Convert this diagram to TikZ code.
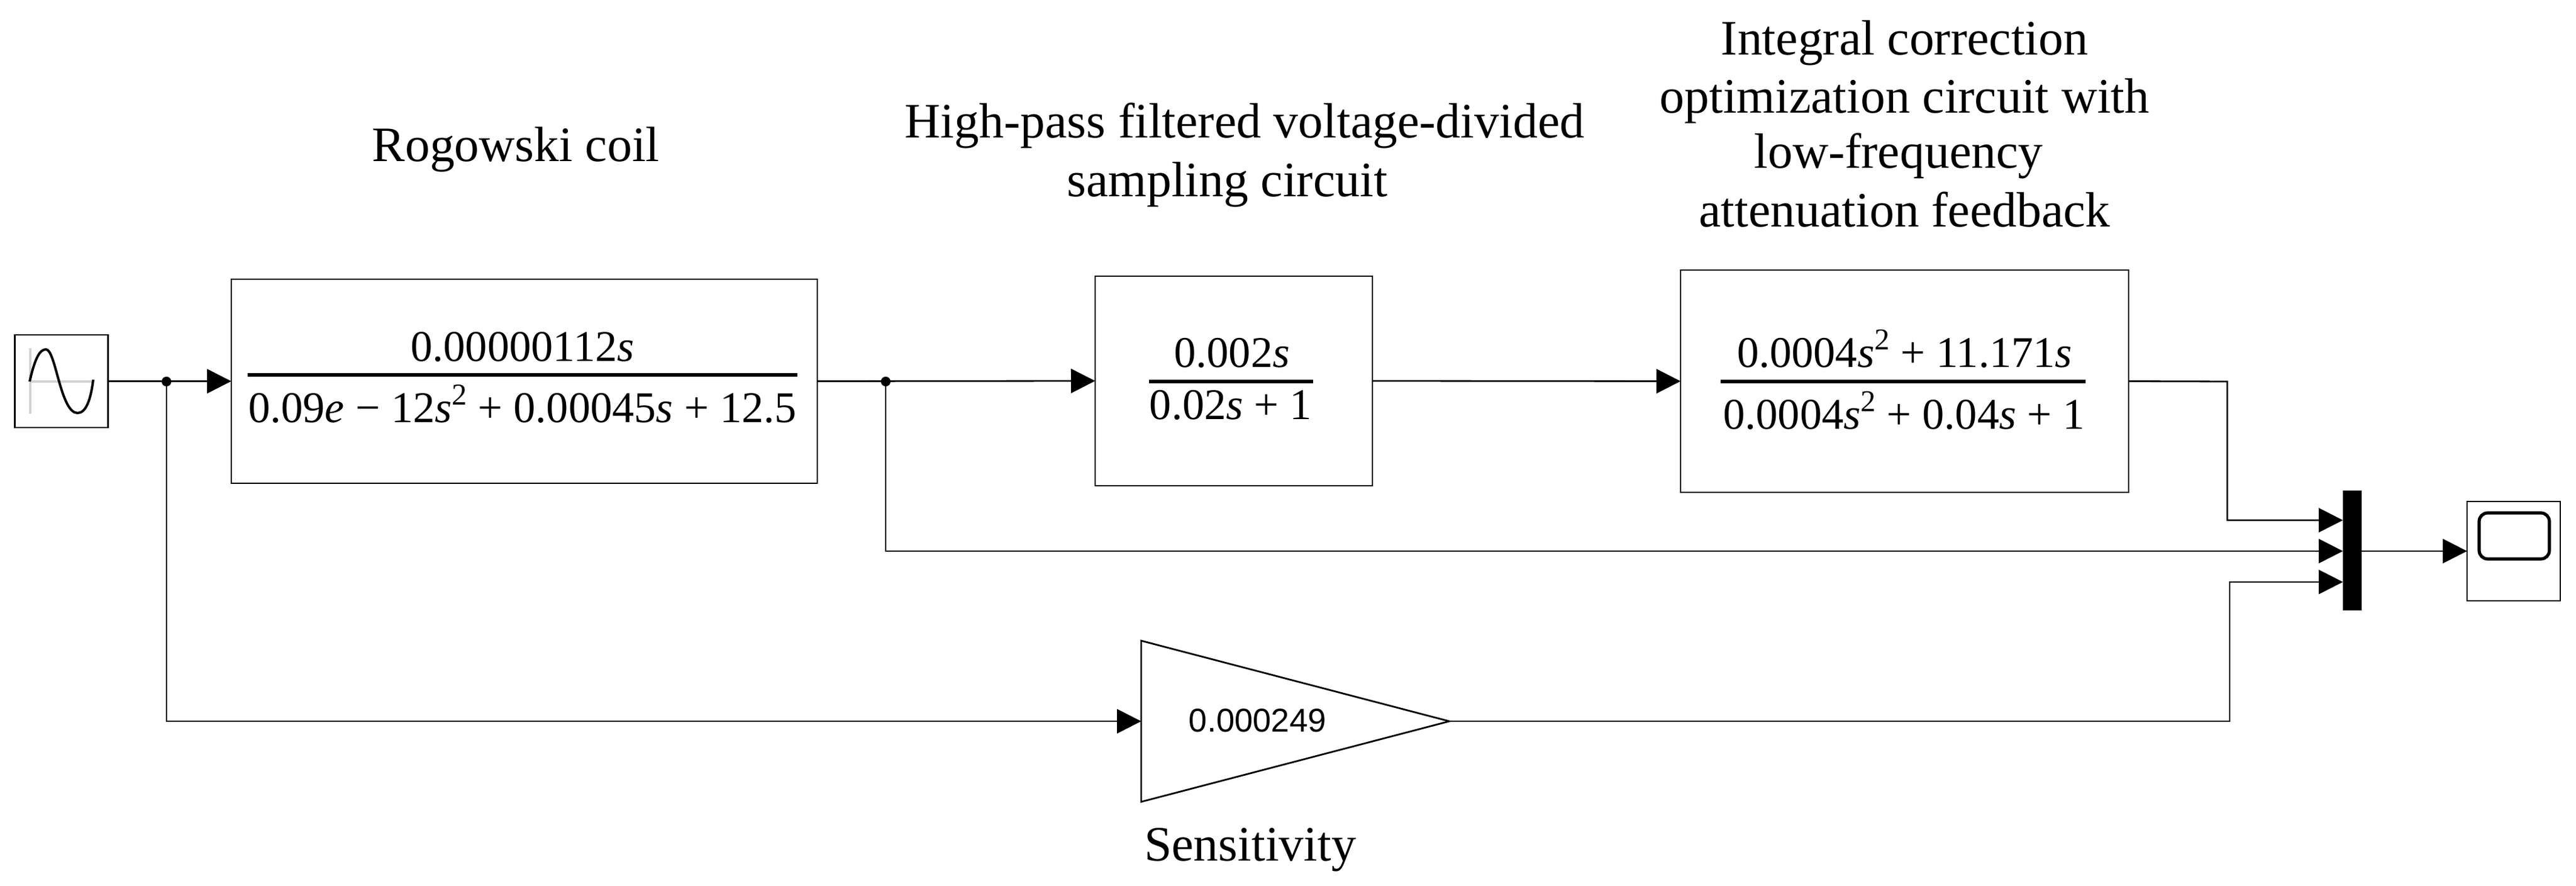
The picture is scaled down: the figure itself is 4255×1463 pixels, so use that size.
\documentclass[tikz,border=0pt]{standalone}
\usepackage{fontspec}
\setmainfont{Liberation Serif}
\newfontfamily\gainfont{Liberation Sans}
\usetikzlibrary{arrows.meta}
\newcommand{\vs}{\textit{s}}
\newcommand{\sqr}{\raisebox{7.3pt}{\fontsize{12.5pt}{12.5pt}\selectfont 2}}
\tikzset{
  x=0.25pt,y=-0.25pt,
  wire/.style={line width=0.7pt,-{Triangle[length=10pt,width=10pt]}},
  plain/.style={line width=0.7pt},
  blockbox/.style={draw,line width=0.7pt,minimum width=#1,inner sep=0pt,outer sep=0pt},
  fracbar/.style={line width=1.6pt},
  eq/.style={font=\fontsize{18.1pt}{18.1pt}\selectfont,inner sep=0pt,anchor=base},
  title/.style={font=\fontsize{20.45pt}{24pt}\selectfont,inner sep=0pt,align=center,anchor=base},
  dotnode/.style={circle,fill=black,inner sep=0pt,minimum size=4pt},
}
\begin{document}
\begin{tikzpicture}
\useasboundingbox (0,0) rectangle (4255,1463);
% blocks
\node[blockbox=38.5pt,minimum height=38.25pt] (source) at (101.5,629.5) {};
\node[blockbox=242pt,minimum height=84.25pt] (rog) at (866,629.5) {};
\node[blockbox=114.5pt,minimum height=86.5pt] (hp) at (2038,629) {};
\node[blockbox=185pt,minimum height=91.75pt] (integ) at (3146,629.5) {};
\node[draw,fill=black,line width=0pt,minimum width=7.5pt,minimum height=49.25pt,inner sep=0pt,outer sep=0pt] (mux) at (3885,909.5) {};
\node[blockbox=38.5pt,minimum height=41pt] (scope) at (4152,910) {};
% source icon
\draw[gray!35,line width=0.8pt] (50,575) -- (50,683) (50,630) -- (155,630);
\draw[line width=1pt,line join=round] (49,630) .. controls (58,590) and (66,577) .. (76,577)
   .. controls (92,577) and (100,682) .. (128,682)
   .. controls (142,682) and (150,660) .. (154,627);
% scope icon
\draw[line width=1.3pt,rounded corners=3.5pt] (4095,847) rectangle (4211,923);
% gain
\coordinate (gw) at (1885,1191);
\coordinate (ge) at (2394,1191);
\draw[line width=0.7pt,line join=miter] (1885,1058) -- (ge) -- (1885,1324) -- cycle;
\node[inner sep=0pt,anchor=base west,font=\gainfont\fontsize{13.6pt}{13.6pt}\selectfont] (gainv) at (1963,1209) {0.000249};
% fractions
\node[eq] (n1) at (863,597) {0.00000112\vs};
\draw[fracbar] (409,619) -- (1317,619);
\node[eq] (d1) at (863,698) {0.09\textit{e} − 12\vs\sqr{} + 0.00045\vs{} + 12.5};
\node[eq] (n2) at (2035,607) {0.002\vs};
\draw[fracbar] (1898,630) -- (2169,630);
\node[eq] (d2) at (2033,693) {0.02\vs{} + 1};
\node[eq] (n3) at (3146,607) {0.0004\vs\sqr{} + 11.171\vs};
\draw[fracbar] (2842,630) -- (3445,630);
\node[eq] (d3) at (3145,709) {0.0004\vs\sqr{} + 0.04\vs{} + 1};
% titles
\node[title] (t1) at (852,267) {Rogowski coil};
\node[title] (t2a) at (2056,228) {High-pass filtered voltage-divided};
\node[title] (t2b) at (2027,325) {sampling circuit};
\node[title] (t3a) at (3146,91) {Integral correction};
\node[title] (t3b) at (3146,187) {optimization circuit with};
\node[title] (t3c) at (3136,278) {low-frequency};
\node[title] (t3d) at (3146,375) {attenuation feedback};
\node[title] (t4) at (2065,1422) {Sensitivity};
% wiring
\coordinate (j1) at (275,630);
\coordinate (j2) at (1463,630);
\coordinate (m1) at (3870,859);
\coordinate (m2) at (3870,910);
\coordinate (m3) at (3870,961);
\draw[wire] (source.east) -- (rog.west);
\draw[wire] (rog.east) -- (hp.west);
\draw[wire] (hp.east) -- (integ.west);
\draw[wire] (integ.east) -- (3679,630) -- (3679,859) -- (m1);
\draw[wire] (j2) -- (1463,910) -- (m2);
\draw[wire] (j1) -- (275,1191) -- (gw);
\draw[wire] (ge) -- (3683,1191) -- (3683,961) -- (m3);
\draw[wire] (mux.east |- scope.west) -- (scope.west);
\node[dotnode] (dot1) at (j1) {};
\node[dotnode] (dot2) at (j2) {};
\end{tikzpicture}
\end{document}
